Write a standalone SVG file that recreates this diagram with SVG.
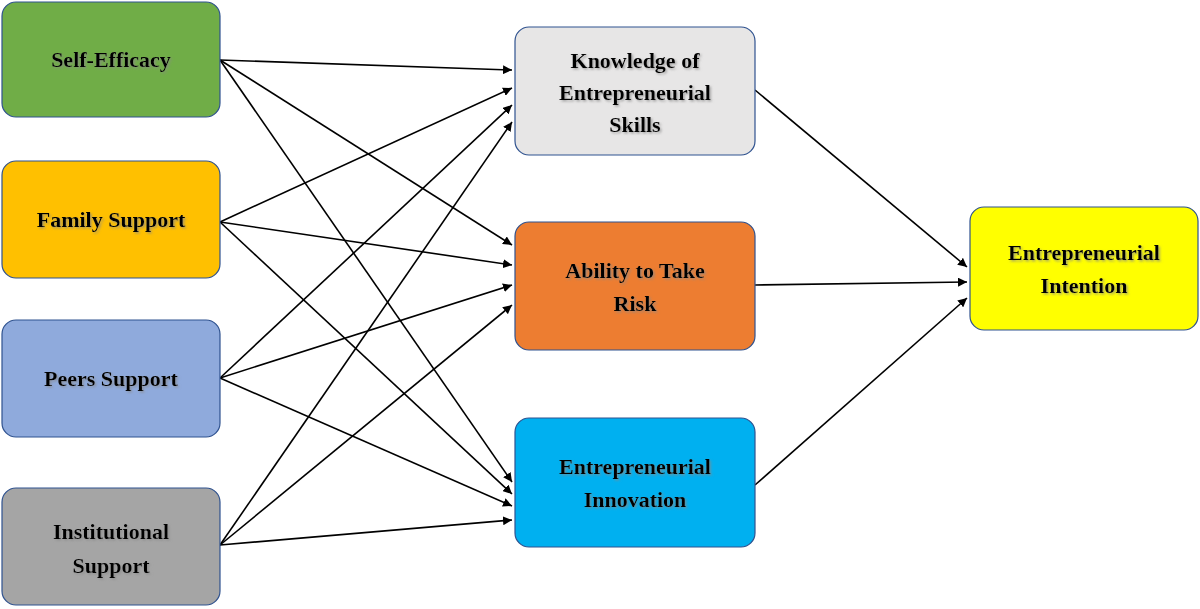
<svg xmlns="http://www.w3.org/2000/svg" width="1200" height="609" viewBox="0 0 1200 609">
<defs>
<marker id="ah" viewBox="0 0 10 10" refX="10" refY="5" markerWidth="9" markerHeight="9" markerUnits="userSpaceOnUse" orient="auto"><path d="M0,0 L10,5 L0,10 z" fill="#000"/></marker>
<filter id="sh" x="-10%" y="-10%" width="120%" height="130%"><feDropShadow dx="1.5" dy="1.5" stdDeviation="0.8" flood-color="#888" flood-opacity="0.7"/></filter>
</defs>
<style>
.n{stroke:#2F528F;stroke-width:1.2}
.t{font-family:"Liberation Serif","Times New Roman",serif;font-weight:bold;font-size:22px;text-anchor:middle;fill:#000;filter:url(#sh)}
.c{stroke:#000;stroke-width:1.6;fill:none;marker-end:url(#ah)}
</style>
<rect width="1200" height="609" fill="#fff"/>
<g id="connectors">
<line class="c" x1="220" y1="60" x2="512" y2="70"/>
<line class="c" x1="220" y1="60" x2="512" y2="245"/>
<line class="c" x1="220" y1="60" x2="512" y2="482"/>
<line class="c" x1="220" y1="222" x2="512" y2="88"/>
<line class="c" x1="220" y1="222" x2="512" y2="265"/>
<line class="c" x1="220" y1="222" x2="512" y2="494"/>
<line class="c" x1="220" y1="378" x2="512" y2="105"/>
<line class="c" x1="220" y1="378" x2="512" y2="285"/>
<line class="c" x1="220" y1="378" x2="512" y2="506"/>
<line class="c" x1="220" y1="545" x2="512" y2="122"/>
<line class="c" x1="220" y1="545" x2="512" y2="305"/>
<line class="c" x1="220" y1="545" x2="512" y2="520"/>
<line class="c" x1="755" y1="90" x2="967" y2="267"/>
<line class="c" x1="755" y1="285" x2="967" y2="282"/>
<line class="c" x1="755" y1="485" x2="967" y2="298"/>
</g>
<g id="self-efficacy"><rect class="n" x="2" y="2" width="218" height="115" rx="14" fill="#70AD47"/><text class="t" x="111" y="67">Self-Efficacy</text></g>
<g id="family-support"><rect class="n" x="2" y="161" width="218" height="117" rx="14" fill="#FFC000"/><text class="t" x="111" y="227">Family Support</text></g>
<g id="peers-support"><rect class="n" x="2" y="320" width="218" height="117" rx="14" fill="#8FAADC"/><text class="t" x="111" y="386">Peers Support</text></g>
<g id="institutional-support"><rect class="n" x="2" y="488" width="218" height="117" rx="14" fill="#A5A5A5"/><text class="t" x="111" y="539">Institutional</text><text class="t" x="111" y="573">Support</text></g>
<g id="knowledge"><rect class="n" x="515" y="27" width="240" height="128" rx="14" fill="#E7E6E6"/><text class="t" x="635" y="68">Knowledge of</text><text class="t" x="635" y="100">Entrepreneurial</text><text class="t" x="635" y="132">Skills</text></g>
<g id="ability"><rect class="n" x="515" y="222" width="240" height="128" rx="14" fill="#ED7D31"/><text class="t" x="635" y="278">Ability to Take</text><text class="t" x="635" y="311">Risk</text></g>
<g id="innovation"><rect class="n" x="515" y="418" width="240" height="129" rx="14" fill="#00B0F0"/><text class="t" x="635" y="474">Entrepreneurial</text><text class="t" x="635" y="507">Innovation</text></g>
<g id="intention"><rect class="n" x="970" y="207" width="228" height="123" rx="14" fill="#FFFF00"/><text class="t" x="1084" y="260">Entrepreneurial</text><text class="t" x="1084" y="293">Intention</text></g>
</svg>
